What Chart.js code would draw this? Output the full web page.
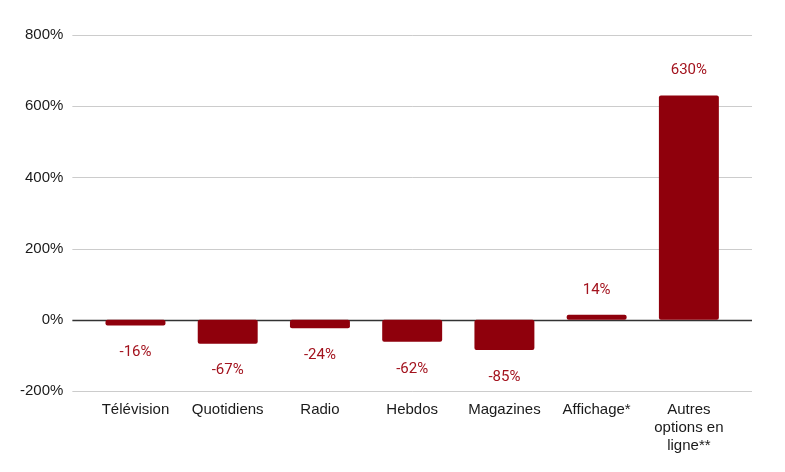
<!DOCTYPE html>
<html>
<head>
<meta charset="utf-8">
<script src="https://cdn.jsdelivr.net/npm/chart.js@4"></script>
<style>
  html, body { margin: 0; padding: 0; background: #fff; }
  #wrap { width: 785px; height: 472px; }
</style>
</head>
<body>
<div id="wrap"><canvas id="chart"></canvas></div>
<script>
// catégories et variations (%)
const categories = [
    'Télévision',
    'Quotidiens',
    'Radio',
    'Hebdos',
    'Magazines',
    'Affichage*',
    ['Autres', 'options en', 'ligne**']
];
const variations = [-16, -67, -24, -62, -85, 14, 630];
const yTicks = [-200, 0, 200, 400, 600, 800];

const barColor = '#8f000c';
const labelColor = '#a3131e';
const labelFont = 'normal 15px Roboto';
const gridOverhang = 17;

// lignes horizontales qui dépassent un peu la zone des barres
const wideGrid = {
    id: 'wideGrid',
    beforeDatasetsDraw(chart) {
        const ctx = chart.ctx;
        const area = chart.chartArea;
        const yScale = chart.scales.y;
        ctx.save();
        yTicks.forEach(v => {
            const y = Math.round(yScale.getPixelForValue(v)) + 0.5;
            ctx.beginPath();
            ctx.strokeStyle = v === 0 ? '#333' : '#cccccc';
            ctx.lineWidth = v === 0 ? 1.3 : 1;
            ctx.moveTo(area.left - gridOverhang, y);
            ctx.lineTo(area.right + gridOverhang, y);
            ctx.stroke();
        });
        ctx.restore();
    }
};

// étiquettes de valeur au-dessus / au-dessous des barres
const valueLabels = {
    id: 'valueLabels',
    afterDatasetsDraw(chart) {
        const ctx = chart.ctx;
        const meta = chart.getDatasetMeta(0);
        ctx.save();
        ctx.font = labelFont;
        ctx.fillStyle = labelColor;
        ctx.textAlign = 'center';
        ctx.textBaseline = 'middle';
        meta.data.forEach((bar, i) => {
            const v = variations[i];
            const y = v >= 0 ? bar.y - 25 : bar.y + 27;
            ctx.fillText(v + '%', bar.x, y);
        });
        ctx.restore();
    }
};

const tickFont = { family: '"Liberation Sans", Arial, sans-serif', size: 15, lineHeight: 1.2 };

new Chart(document.getElementById('chart').getContext('2d'), {
    type: 'bar',
    data: {
        labels: categories,
        datasets: [{
            data: variations,
            backgroundColor: barColor,
            borderRadius: 2,
            borderSkipped: 'middle',
            categoryPercentage: 1,
            barPercentage: 0.65
        }]
    },
    options: {
        responsive: true,
        maintainAspectRatio: false,
        animation: false,
        layout: { padding: { top: 21, right: 33 + gridOverhang, left: -6, bottom: 15 } },
        plugins: {
            legend: { display: false },
            tooltip: { enabled: false }
        },
        scales: {
            x: {
                grid: { display: false },
                border: { display: false },
                ticks: {
                    color: '#1a1a1a',
                    font: tickFont,
                    maxRotation: 0,
                    autoSkip: false,
                    padding: 2
                }
            },
            y: {
                min: -200,
                max: 800,
                afterBuildTicks: axis => {
                    axis.ticks = yTicks.map(v => ({ value: v }));
                },
                grid: { display: false, drawTicks: false },
                border: { display: false },
                ticks: {
                    color: '#1a1a1a',
                    font: tickFont,
                    padding: 9 + gridOverhang,
                    callback: v => v + '%'
                }
            }
        }
    },
    plugins: [wideGrid, valueLabels]
});
</script>
</body>
</html>
